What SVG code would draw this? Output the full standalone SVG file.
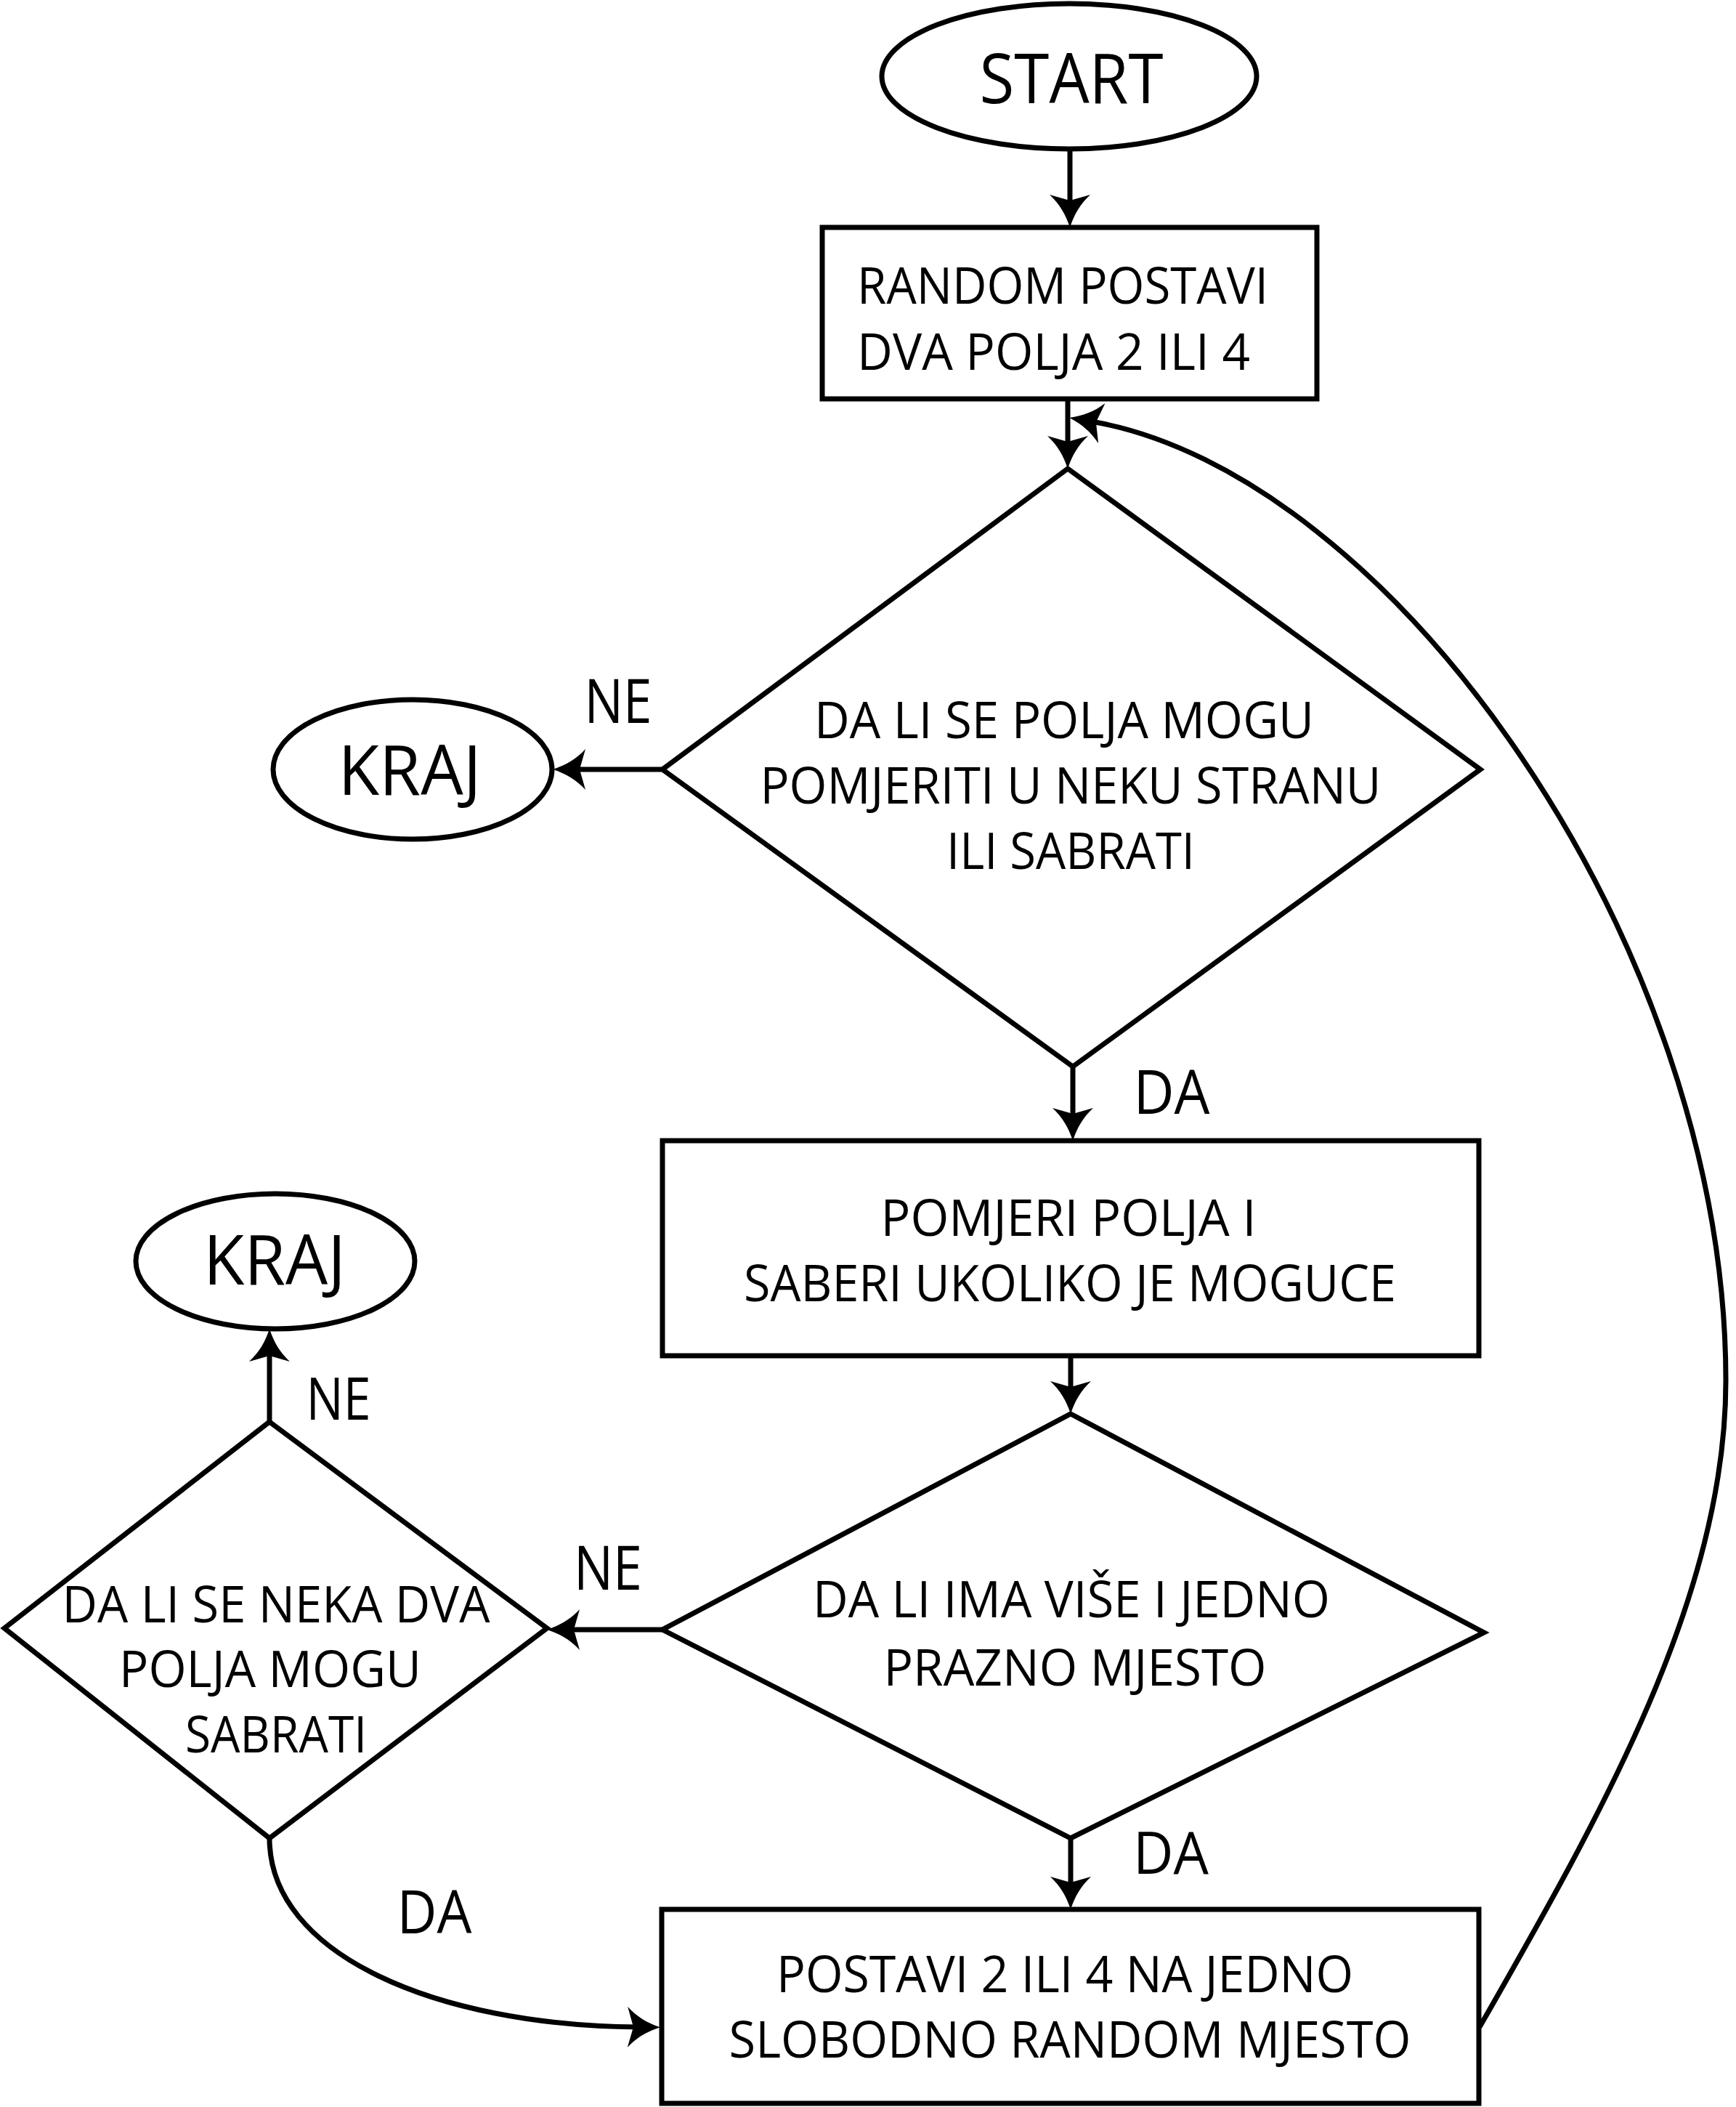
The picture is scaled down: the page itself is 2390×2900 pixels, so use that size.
<svg xmlns="http://www.w3.org/2000/svg" width="2390" height="2900" viewBox="0 0 2390 2900">
<style>
.shape{fill:#fff;stroke:#000;stroke-width:7}
.conn{fill:none;stroke:#000;stroke-width:7}
text{font-family:"Open Sans","Liberation Sans",sans-serif;fill:#000;text-anchor:middle}
.t{font-size:70px}
.lbl{font-size:84px}
.big{font-size:95px}
</style>
<defs>
<marker id="ah" markerUnits="userSpaceOnUse" orient="auto" overflow="visible" refX="0" refY="0" markerWidth="60" markerHeight="60">
<path d="M30,0 C12,-6 -2,-14 -15,-28 L-7,0 L-15,28 C-2,14 12,6 30,0 Z" fill="#000"/>
</marker>
</defs>
<rect width="2390" height="2900" fill="#fff"/>

<g id="start">
<ellipse class="shape" cx="1472" cy="105" rx="258" ry="100"/>
<text class="big" x="1475" y="142" textLength="253" lengthAdjust="spacingAndGlyphs">START</text>
</g>

<g id="box1">
<rect class="shape" x="1132" y="313" width="681" height="236"/>
<text class="t" x="1180" y="418" style="text-anchor:start" textLength="566" lengthAdjust="spacingAndGlyphs">RANDOM POSTAVI</text>
<text class="t" x="1180" y="509" style="text-anchor:start" textLength="541" lengthAdjust="spacingAndGlyphs">DVA POLJA 2 ILI 4</text>
</g>

<g id="dec1">
<polygon class="shape" points="1470,645 2038,1059 1477,1468 912,1059"/>
<text class="t" x="1465" y="1016" textLength="688" lengthAdjust="spacingAndGlyphs">DA LI SE POLJA MOGU</text>
<text class="t" x="1474" y="1106" textLength="855" lengthAdjust="spacingAndGlyphs">POMJERITI U NEKU STRANU</text>
<text class="t" x="1474" y="1196" textLength="342" lengthAdjust="spacingAndGlyphs">ILI SABRATI</text>
</g>

<g id="kraj1">
<ellipse class="shape" cx="568" cy="1059" rx="192" ry="96"/>
<text class="big" x="564" y="1094" textLength="197" lengthAdjust="spacingAndGlyphs">KRAJ</text>
</g>

<g id="box2">
<rect class="shape" x="912" y="1570" width="1124" height="296"/>
<text class="t" x="1471" y="1701" textLength="517" lengthAdjust="spacingAndGlyphs">POMJERI POLJA I</text>
<text class="t" x="1473" y="1791" textLength="898" lengthAdjust="spacingAndGlyphs">SABERI UKOLIKO JE MOGUCE</text>
</g>

<g id="dec2">
<polygon class="shape" points="1474,1946 2043,2247 1474,2530 912,2243"/>
<text class="t" x="1475" y="2226" textLength="712" lengthAdjust="spacingAndGlyphs">DA LI IMA VIŠE I JEDNO</text>
<text class="t" x="1480" y="2320" textLength="527" lengthAdjust="spacingAndGlyphs">PRAZNO MJESTO</text>
</g>

<g id="dec3">
<polygon class="shape" points="371,1957 753,2241 371,2530 6,2241"/>
<text class="t" x="380" y="2233" style="font-size:69px" textLength="589" lengthAdjust="spacingAndGlyphs">DA LI SE NEKA DVA</text>
<text class="t" x="372" y="2322" style="font-size:69px" textLength="416" lengthAdjust="spacingAndGlyphs">POLJA MOGU</text>
<text class="t" x="380" y="2412" style="font-size:69px" textLength="250" lengthAdjust="spacingAndGlyphs">SABRATI</text>
</g>

<g id="kraj2">
<ellipse class="shape" cx="379" cy="1736" rx="192" ry="93"/>
<text class="big" x="378" y="1768" textLength="196" lengthAdjust="spacingAndGlyphs">KRAJ</text>
</g>

<g id="box3">
<rect class="shape" x="911" y="2628" width="1125" height="267"/>
<text class="t" x="1466" y="2742" textLength="794" lengthAdjust="spacingAndGlyphs">POSTAVI 2 ILI 4 NA JEDNO</text>
<text class="t" x="1473" y="2832" textLength="939" lengthAdjust="spacingAndGlyphs">SLOBODNO RANDOM MJESTO</text>
</g>

<g id="connectors">
<path class="conn" marker-end="url(#ah)" d="M1473,205 L1473,283"/>
<path class="conn" marker-end="url(#ah)" d="M1470,549 L1470,615"/>
<path class="conn" marker-end="url(#ah)" d="M912,1059 L791,1059"/>
<path class="conn" marker-end="url(#ah)" d="M1477,1468 L1477,1540"/>
<path class="conn" marker-end="url(#ah)" d="M1474,1866 L1474,1916"/>
<path class="conn" marker-end="url(#ah)" d="M1474,2530 L1474,2598"/>
<path class="conn" marker-end="url(#ah)" d="M912,2243 L783,2243"/>
<path class="conn" marker-end="url(#ah)" d="M371,1957 L371,1859"/>
<path class="conn" marker-end="url(#ah)" d="M371,2530 C371,2690 600,2788 879,2790"/>
<path class="conn" marker-end="url(#ah)" d="M2037,2790 C2200,2505 2376,2200 2376,1900 C2376,1300 1915,650 1502,580"/>
<text class="lbl" x="851" y="995" textLength="93" lengthAdjust="spacingAndGlyphs">NE</text>
<text class="lbl" x="1613" y="1533" textLength="105" lengthAdjust="spacingAndGlyphs">DA</text>
<text class="lbl" x="837" y="2188" textLength="94" lengthAdjust="spacingAndGlyphs">NE</text>
<text class="lbl" x="466" y="1954" style="font-size:80px" textLength="89" lengthAdjust="spacingAndGlyphs">NE</text>
<text class="lbl" x="598" y="2661" style="font-size:82px" textLength="103" lengthAdjust="spacingAndGlyphs">DA</text>
<text class="lbl" x="1612" y="2579" style="font-size:80px" textLength="104" lengthAdjust="spacingAndGlyphs">DA</text>
</g>
</svg>
